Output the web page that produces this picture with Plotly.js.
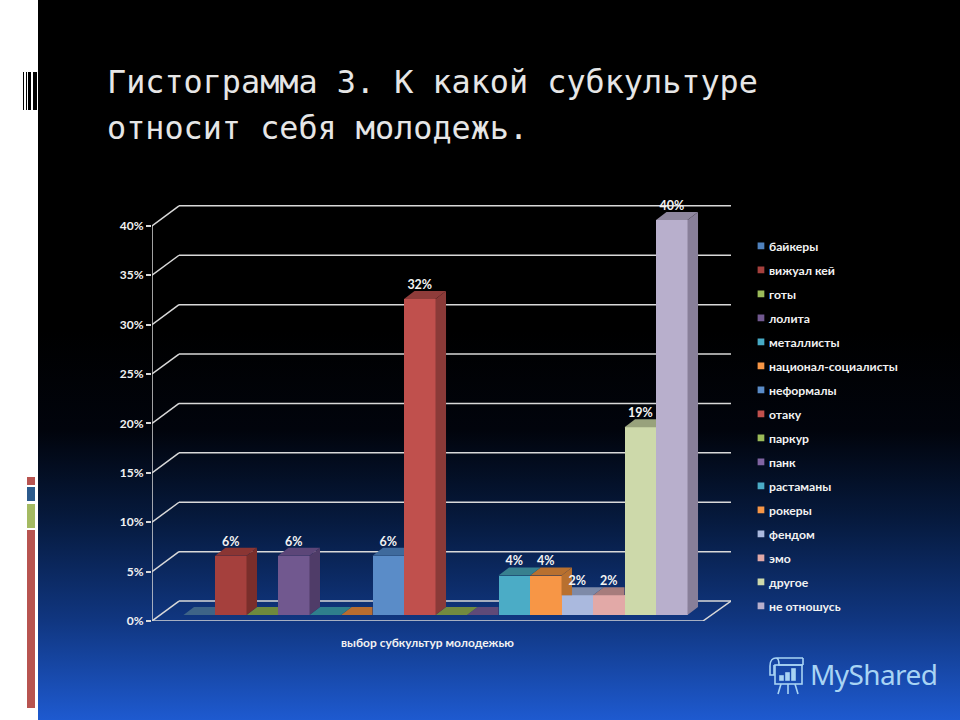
<!DOCTYPE html>
<html>
<head>
<meta charset="utf-8">
<script src="https://cdn.plot.ly/plotly-3.0.1.min.js"></script>
<style>
html,body{margin:0;padding:0;background:#fff;width:960px;height:720px;overflow:hidden}
#panel{position:absolute;left:38px;top:0;width:922px;height:720px;background:linear-gradient(to bottom,#000 0,#000 330px,#01040c 430px,#061a3e 520px,#103680 620px,#1e5ad0 720px)}
#chart{position:absolute;left:0;top:0;width:960px;height:720px}
.strip{position:absolute}
#logo{position:absolute;left:810px;top:655px;font:28px "Noto Sans",sans-serif;color:#a8d4f4;letter-spacing:-.6px}
#logoIcon{position:absolute;left:767px;top:656px}
.legend .legendpoints path{transform:translate(32px,0) scale(.56) !important}
</style>
</head>
<body>
<div id="panel"></div>
<div class="strip" style="left:27px;top:477px;width:8px;height:8px;background:#b85450"></div>
<div class="strip" style="left:27px;top:487px;width:8px;height:14px;background:#2b5a8c"></div>
<div class="strip" style="left:27px;top:504px;width:8px;height:24px;background:#a4ba62"></div>
<div class="strip" style="left:27px;top:530px;width:8px;height:178px;background:#b85450"></div>
<div class="strip" style="left:23px;top:72px;width:1px;height:38px;background:#000"></div>
<div class="strip" style="left:26px;top:72px;width:1px;height:38px;background:#000"></div>
<div class="strip" style="left:28px;top:72px;width:3px;height:38px;background:#000"></div>
<div class="strip" style="left:33px;top:72px;width:4px;height:38px;background:#000"></div>
<div id="chart"></div>
<svg id="logoIcon" width="38" height="40" viewBox="0 0 38 40" fill="none" stroke="#a8d4f4" stroke-width="1.6">
<path d="M3 10C3 4 6 2 9 2H36M9 2C12 2 12 7 12 9H36M36 2V9M3 10V19H7V9"/>
<rect x="8" y="9" width="27" height="19"/>
<path d="M14 28L11 38M21 28V38M28 28L31 38"/>
<rect x="13" y="20" width="3" height="4" fill="#a8d4f4"/><rect x="19" y="17" width="3" height="7" fill="#a8d4f4"/><rect x="25" y="13" width="3" height="11" fill="#a8d4f4"/>
</svg>
<div id="logo">MyShared</div>
<script>
var categories = ["байкеры","вижуал кей","готы","лолита","металлисты","национал-социалисты","неформалы","отаку","паркур","панк","растаманы","рокеры","фендом","эмо","другое","не отношусь"];
var values = [0,6,0,6,0,0,6,32,0,0,4,4,2,2,19,40];
var frontColors = ["#4f81bd","#a5403d","#9bbb59","#71588f","#46aac5","#f79646","#5a8cc8","#c0504d","#9bbb59","#8064a2","#4bacc6","#f79646","#aab9de","#e2a9a7","#cdd9aa","#b8afcc"];
var sideColors = ["#3b6185","#7a2e2b","#6e8a3e","#4f3c68","#2f7f8c","#b86d30","#3f6a9c","#8a3a38","#728a40","#5f4a78","#38808f","#b8702f","#7e8aa8","#a67c7c","#98a27c","#887f99"];
var topColors = ["#3e6487","#8a3533","#6e8a3e","#5c4678","#2f7f8c","#b86d30","#3f6a9c","#8f3c3a","#728a40","#5f4a78","#38808f","#b8702f","#7e8aa8","#a67c7c","#98a27c","#8f879f"];
var yTicks = [0,5,10,15,20,25,30,35,40];
var yTickLabels = ["0%","5%","10%","15%","20%","25%","30%","35%","40%"];
var titleLines = ["Гистограмма 3. К какой субкультуре","относит себя молодежь."];
var axisLabel = "выбор субкультур молодежью";

var FONT = "Lato, 'Open Sans', sans-serif";
var WHITE = "#f2f2f2", GRID = "#d9d9d9";
var floorLift = 0.6;            // bars stand slightly inside the floor
var barDx = 1/3, barDy = 0.81;  // depth of one bar, in axis units
var wallDx = 0.857, wallDy = 2.02; // depth of the chart box
var xFront = -1, xFrontEnd = 16.49, xEnd = 17.38;

var traces = [];
var shapes = [];
yTicks.forEach(function(t){
  shapes.push({type:"line",layer:"below",xref:"x",yref:"y",x0:xFront,y0:t,x1:xFront+wallDx,y1:t+wallDy,line:{color:GRID,width:1.5}});
  shapes.push({type:"line",layer:"below",xref:"x",yref:"y",x0:xFront+wallDx,y0:t+wallDy,x1:xEnd,y1:t+wallDy,line:{color:GRID,width:1.5}});
});
shapes.push({type:"line",layer:"below",xref:"x",yref:"y",x0:xFrontEnd,y0:0,x1:xEnd,y1:wallDy,line:{color:GRID,width:1.5}});

function frame(xs,ys){
  return {type:"scatter",mode:"lines",x:xs,y:ys,cliponaxis:false,showlegend:false,hoverinfo:"skip",line:{color:GRID,width:1.5}};
}
traces.push(frame([xFront,xFront],[0,40]));
traces.push(frame([xFront,xFrontEnd],[0,0]));
traces.push(frame([xFrontEnd,xFrontEnd],[0,-0.5]));

categories.forEach(function(name,i){
  traces.push({type:"bar",name:name,legendgroup:name,x:[i+0.5],y:[values[i]],base:floorLift,width:1,
    marker:{color:frontColors[i],line:{width:0}},hoverinfo:"skip"});
});

function face(xs,ys,c){
  return {type:"scatter",mode:"lines",x:xs,y:ys,fill:"toself",fillcolor:c,line:{width:0,color:c},showlegend:false,hoverinfo:"skip"};
}
for(var i=categories.length-1;i>=0;i--){
  var v=values[i], next=i+1<values.length?values[i+1]:0, t=floorLift+v;
  if(next>v){
    traces.push(face([i,i+1,i+1,i+barDx,i],[t,t,t+barDy,t+barDy,t],topColors[i]));
  }else{
    traces.push(face([i,i+1,i+1+barDx,i+barDx,i],[t,t,t+barDy,t+barDy,t],topColors[i]));
  }
  if(v>0 && next<v){
    if(next>0){
      var c=floorLift+next;
      traces.push(face([i+1,i+1+barDx,i+1+barDx,i+1,i+1],[c,c,t+barDy,t,c],sideColors[i]));
    }else{
      traces.push(face([i+1,i+1+barDx,i+1+barDx,i+1,i+1],[floorLift,floorLift+barDy,t+barDy,t,floorLift],sideColors[i]));
    }
  }
}

var lx=[],ly=[],lt=[];
values.forEach(function(v,i){ if(v>0){ lx.push(i+0.5); ly.push(floorLift+v+barDy-0.1); lt.push(v+"%"); }});
traces.push({type:"scatter",mode:"text",x:lx,y:ly,text:lt,textposition:"top center",cliponaxis:false,showlegend:false,hoverinfo:"skip",
  textfont:{family:FONT,size:12.5,color:WHITE,weight:700}});

var layout = {
  width:960,height:720,
  paper_bgcolor:"rgba(0,0,0,0)",plot_bgcolor:"rgba(0,0,0,0)",
  margin:{l:152,r:229,t:195,b:99,autoexpand:false},
  barmode:"overlay",bargap:0,
  title:{text:'<span style="font-size:31.8px">'+titleLines.join('</span><br><span style="font-size:31.8px">')+'</span>',
    x:107/960,xref:"container",xanchor:"left",y:1-93/720,yref:"container",yanchor:"top",
    font:{family:"'DejaVu Sans Mono',monospace",size:35.4,color:"#e6e6e6"}},
  xaxis:{range:[xFront,xEnd],showgrid:false,zeroline:false,showticklabels:false,ticks:"",showline:false,fixedrange:true},
  yaxis:{range:[0,43.12],tickmode:"array",tickvals:yTicks,ticktext:yTickLabels,showgrid:false,zeroline:false,showline:false,
    ticks:"outside",ticklen:5,tickwidth:1.5,tickcolor:GRID,tickfont:{family:FONT,size:12,color:WHITE,weight:700},fixedrange:true},
  legend:{x:0.9965,xanchor:"left",y:0.9147,yanchor:"top",bgcolor:"rgba(0,0,0,0)",borderwidth:0,tracegroupgap:5,traceorder:"grouped",
    font:{family:FONT,size:12.2,color:WHITE,weight:700}},
  shapes:shapes,
  annotations:[{text:axisLabel,xref:"x",yref:"y",x:(xFront+xFrontEnd)/2,y:0,yanchor:"top",yshift:-12,showarrow:false,
    font:{family:FONT,size:12,color:WHITE,weight:700}}]
};
Plotly.newPlot("chart",traces,layout,{displayModeBar:false});
</script>
</body>
</html>
